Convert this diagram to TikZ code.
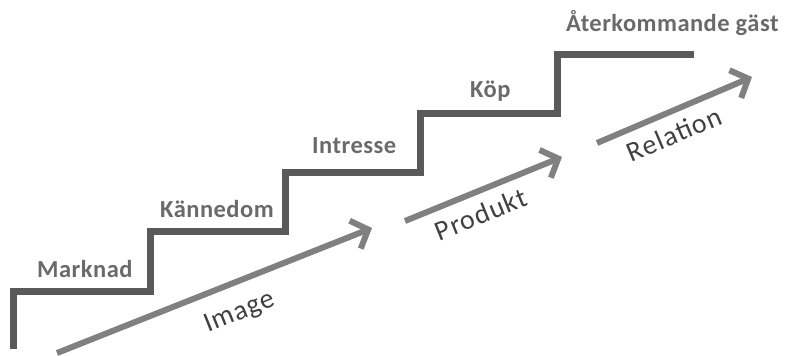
\documentclass[tikz,border=0pt]{standalone}
\usepackage{fontspec}
\setmainfont{Carlito}
\newfontfamily\steplabfont[LetterSpace=2]{Carlito}
\newfontfamily\arrlabfont[LetterSpace=4]{Carlito}
\usetikzlibrary{arrows.meta}
\definecolor{stairc}{HTML}{5A5A5A}
\definecolor{steplab}{HTML}{6A6A6A}
\definecolor{arrowc}{HTML}{808080}
\definecolor{arrlab}{HTML}{404040}
\tikzset{
  stairline/.style={draw=stairc, line width=7pt, line cap=butt, line join=miter},
  steplabel/.style={anchor=base west, inner sep=0pt, text=steplab, font=\steplabfont\fontsize{24.5}{27}\selectfont\bfseries},
  growarrow/.style={draw=arrowc, line width=6pt, -{Straight Barb[length=14pt,width=30pt]}},
  arrowlabel/.style={inner sep=0pt, text=arrlab, font=\arrlabfont\fontsize{28}{31}\selectfont}
}
\begin{document}
\begin{tikzpicture}[x=1pt,y=-1pt]
\useasboundingbox (0,0) rectangle (790,356);
% staircase
\coordinate (s0) at (13,349);
\coordinate (s1) at (13,291);
\coordinate (s2) at (150,291);
\coordinate (s3) at (150,231);
\coordinate (s4) at (285,231);
\coordinate (s5) at (285,172);
\coordinate (s6) at (420,172);
\coordinate (s7) at (420,113);
\coordinate (s8) at (557,113);
\coordinate (s9) at (557,54);
\coordinate (s10) at (694,54);
\draw[stairline] (s0) -- (s1) -- (s2) -- (s3) -- (s4) -- (s5) -- (s6) -- (s7) -- (s8) -- (s9) -- (s10);
% step labels
\node[steplabel] (marknad) at (37,277) {Marknad};
\node[steplabel] (kannedom) at (160,217) {Kännedom};
\node[steplabel] (intresse) at (312,153) {Intresse};
\node[steplabel] (kop) at (470,97) {Köp};
\node[steplabel] (ater) at (566,31) {Återkommande gäst};
% arrows
\coordinate (a1s) at (57,353);
\coordinate (a1e) at (372,228);
\coordinate (a2s) at (405,221);
\coordinate (a2e) at (562,157);
\coordinate (a3s) at (597,143);
\coordinate (a3e) at (752,77);
\draw[growarrow] (a1s) -- (a1e);
\draw[growarrow] (a2s) -- (a2e);
\draw[growarrow] (a3s) -- (a3e);
% arrow labels
\node[arrowlabel, rotate=22] (image) at (240,313) {Image};
\node[arrowlabel, rotate=22] (produkt) at (481,214) {Produkt};
\node[arrowlabel, rotate=23] (relation) at (674,134) {Relation};
\end{tikzpicture}
\end{document}
